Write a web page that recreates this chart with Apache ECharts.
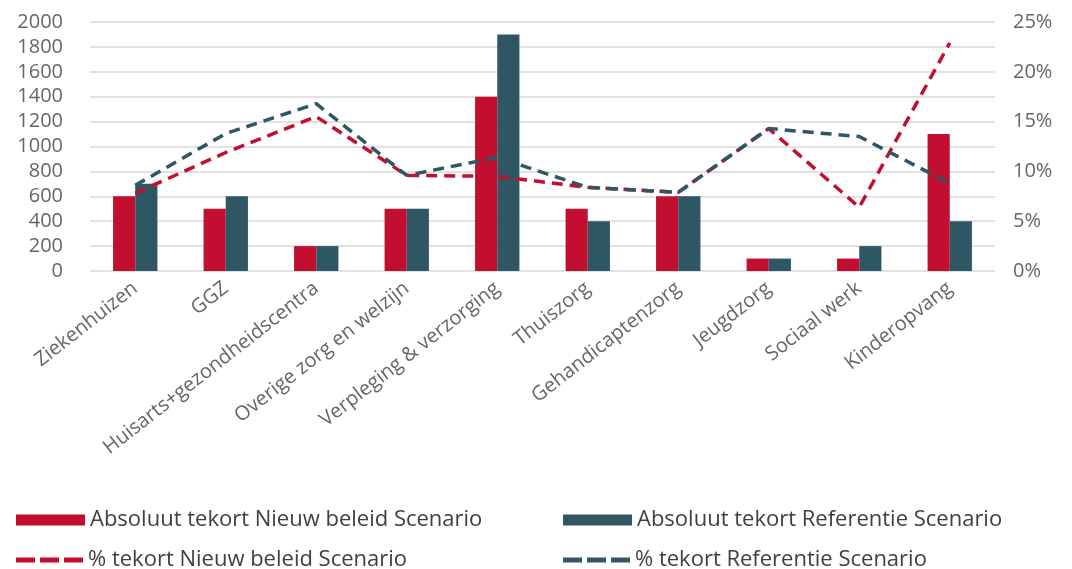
<!DOCTYPE html>
<html>
<head>
<meta charset="utf-8">
<script src="https://cdn.jsdelivr.net/npm/echarts@6/dist/echarts.min.js"></script>
<style>html,body{margin:0;padding:0;background:#fff}#c{width:1072px;height:569px}</style>
</head>
<body>
<div id="c"></div>
<script>
const categories = ['Ziekenhuizen','GGZ','Huisarts+gezondheidscentra','Overige zorg en welzijn','Verpleging & verzorging','Thuiszorg','Gehandicaptenzorg','Jeugdzorg','Sociaal werk','Kinderopvang'];
const absNieuw = [600, 500, 200, 500, 1400, 500, 600, 100, 100, 1100];
const absRef = [700, 600, 200, 500, 1900, 400, 600, 100, 200, 400];
const pctNieuw = [7.8, 11.9, 15.5, 9.6, 9.5, 8.4, 7.9, 14.3, 6.4, 22.9];
const pctRef = [8.6, 13.8, 16.8, 9.6, 11.4, 8.4, 7.9, 14.3, 13.5, 8.8];
const seriesNames = ['Absoluut tekort Nieuw beleid Scenario','Absoluut tekort Referentie Scenario','% tekort Nieuw beleid Scenario','% tekort Referentie Scenario'];

const RED = '#c20e2f', TEAL = '#2e5663';
const FONT = 'Open Sans';
const DASH_ICON = 'path://M0,0h19v5h-19z M24,0h19v5h-19z M48,0h19v5h-19z';
const chart = echarts.init(document.getElementById('c'));
const legendText = {color:'#404040', fontSize:22, fontFamily: FONT};
function lg(left, top, name, icon, w, h) {
  return {left:left, top:top, padding:0, itemWidth:w, itemHeight:h, textStyle:legendText, selectedMode:false,
          data:[{name:name, icon:icon}]};
}
chart.setOption({
  animation:false,
  textStyle:{fontFamily:FONT},
  grid:{left:90, right:77, top:22, bottom:298, containLabel:false},
  legend:[
    lg(16, 509, seriesNames[0], 'rect', 69, 11),
    lg(16, 549, seriesNames[2], DASH_ICON, 67, 5),
    lg(563, 509, seriesNames[1], 'rect', 69, 11),
    lg(563, 549, seriesNames[3], DASH_ICON, 67, 5)
  ],
  xAxis:{type:'category', data:categories,
    axisLine:{show:false}, axisTick:{show:false},
    axisLabel:{rotate:38, interval:0, color:'#666666', fontSize:20, margin:15}},
  yAxis:[
    {type:'value', min:0, max:2000, interval:200,
     axisLabel:{color:'#666666', fontSize:20, margin:27, formatter:function(v){return String(v);}},
     splitLine:{lineStyle:{color:'#d9d9d9', width:1.5}}, axisLine:{show:false}, axisTick:{show:false}},
    {type:'value', min:0, max:25, interval:5,
     axisLabel:{color:'#666666', fontSize:20, margin:18, formatter:function(v){return v + '%';}},
     splitLine:{show:false}, axisLine:{show:false}, axisTick:{show:false}}
  ],
  series:[
    {name:seriesNames[0], type:'bar', data:absNieuw, itemStyle:{color:RED}, barGap:'0%', barCategoryGap:'51%'},
    {name:seriesNames[1], type:'bar', data:absRef, itemStyle:{color:TEAL}, barGap:'0%', barCategoryGap:'51%'},
    {name:seriesNames[2], type:'line', yAxisIndex:1, data:pctNieuw, symbol:'none', itemStyle:{color:RED}, lineStyle:{color:RED, width:3.5, type:[11,7]}},
    {name:seriesNames[3], type:'line', yAxisIndex:1, data:pctRef, symbol:'none', itemStyle:{color:TEAL}, lineStyle:{color:TEAL, width:3.5, type:[11,7]}}
  ]
});
</script>
</body>
</html>
